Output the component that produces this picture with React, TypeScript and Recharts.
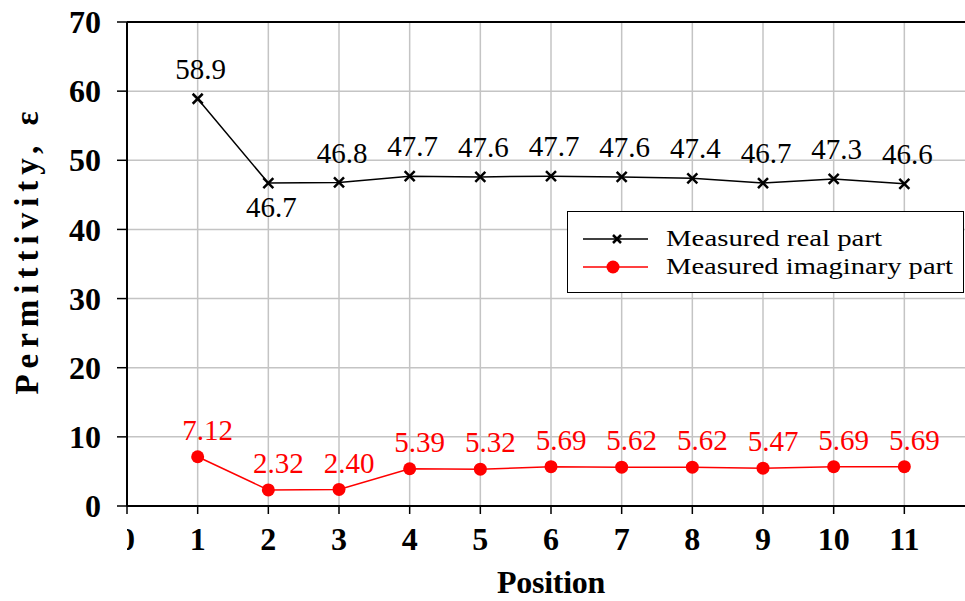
import React from 'react'
import {
  LineChart,
  Line,
  XAxis,
  YAxis,
  CartesianGrid,
  LabelList,
  ReferenceLine,
} from 'recharts'

const positions = [1, 2, 3, 4, 5, 6, 7, 8, 9, 10, 11]
const realPart = [58.9, 46.7, 46.8, 47.7, 47.6, 47.7, 47.6, 47.4, 46.7, 47.3, 46.6]
const imagPart = [7.12, 2.32, 2.4, 5.39, 5.32, 5.69, 5.62, 5.62, 5.47, 5.69, 5.69]
const realLabels = ['58.9', '46.7', '46.8', '47.7', '47.6', '47.7', '47.6', '47.4', '46.7', '47.3', '46.6']
const imagLabels = ['7.12', '2.32', '2.40', '5.39', '5.32', '5.69', '5.62', '5.62', '5.47', '5.69', '5.69']
const xTicks = [0, 1, 2, 3, 4, 5, 6, 7, 8, 9, 10, 11]
const yTicks = [0, 10, 20, 30, 40, 50, 60, 70]
const gridX = [0, 1, 2, 3, 4, 5, 6, 7, 8, 9, 10, 11, 12]

const data = positions.map((p, i) => ({
  pos: p,
  real: realPart[i],
  imag: imagPart[i],
  realLabel: realLabels[i],
  imagLabel: imagLabels[i],
}))

const SERIF = '"Liberation Serif", "Times New Roman", serif'

const XTick = ({ x, y, payload }: any) => {
  const txt = (
    <text x={x} y={y + 36} textAnchor="middle" fontFamily={SERIF} fontWeight="bold" fontSize={32} fill="#000">
      {payload.value}
    </text>
  )
  if (payload.value === 0) {
    return (
      <g>
        <defs>
          <clipPath id="zeroClip">
            <rect x={x} y={y} width={30} height={60} />
          </clipPath>
        </defs>
        <g clipPath="url(#zeroClip)">{txt}</g>
      </g>
    )
  }
  return txt
}

const YTick = ({ x, y, payload }: any) => (
  <text x={x} y={y} dy="0.35em" textAnchor="end" fontFamily={SERIF} fontWeight="bold" fontSize={32} fill="#000">
    {payload.value}
  </text>
)

const CrossDot = ({ cx, cy, size = 5, sw = 2.5 }: any) => {
  if (cx == null || cy == null) return null
  return (
    <g stroke="#000" strokeWidth={sw}>
      <line x1={cx - size} y1={cy - size} x2={cx + size} y2={cy + size} />
      <line x1={cx - size} y1={cy + size} x2={cx + size} y2={cy - size} />
    </g>
  )
}

const RealLabel = ({ x, y, value, index }: any) => {
  const below = index === 1
  return (
    <text
      x={x + 3}
      y={below ? y + 24 : y - 30}
      dy="0.35em"
      textAnchor="middle"
      fontFamily={SERIF}
      fontSize={29}
      fill="#000"
    >
      {value}
    </text>
  )
}

const ImagLabel = ({ x, y, value }: any) => (
  <text x={x + 10} y={y - 27} dy="0.35em" textAnchor="middle" fontFamily={SERIF} fontSize={29} fill="#ff0000">
    {value}
  </text>
)

const YTitle = () => (
  <text
    x={38}
    y={250}
    transform="rotate(-90, 38, 250)"
    textAnchor="middle"
    fontFamily={SERIF}
    fontWeight="bold"
    fontSize={33}
    letterSpacing={6}
    fill="#000"
  >
    Permittivity, ε
  </text>
)

const LegendBox = () => (
  <svg
    width={397}
    height={82}
    style={{ position: 'absolute', left: 567, top: 211, background: '#fff' }}
  >
    <rect x={0.5} y={0.5} width={396} height={81} fill="#fff" stroke="#000" strokeWidth={1} />
    <line x1={16} y1={28} x2={81} y2={28} stroke="#000" strokeWidth={1.5} />
    <CrossDot cx={50} cy={28} size={4} sw={2.5} />
    <line x1={16} y1={56} x2={81} y2={56} stroke="#ff0000" strokeWidth={1.5} />
    <circle cx={46} cy={56} r={6.5} fill="#ff0000" />
    <text x={99} y={35} fontFamily={SERIF} fontSize={24} textLength={216} lengthAdjust="spacingAndGlyphs" fill="#000">
      Measured real part
    </text>
    <text x={99} y={63} fontFamily={SERIF} fontSize={24} textLength={287} lengthAdjust="spacingAndGlyphs" fill="#000">
      Measured imaginary part
    </text>
  </svg>
)

export default function App() {
  return (
    <div style={{ position: 'absolute', left: 0, top: 0, width: 965, height: 601, overflow: 'hidden', background: '#fff' }}>
      <LineChart width={1000} height={601} data={data} margin={{ top: 22, right: 25, bottom: 0, left: 0 }}>
        <CartesianGrid
          stroke="#c4c4c4"
          strokeWidth={1.5}
          verticalCoordinatesGenerator={({ offset }: any) =>
            gridX.map((v) => offset.left + (v / 12) * offset.width)
          }
        />
        <XAxis
          dataKey="pos"
          type="number"
          domain={[0, 12]}
          ticks={xTicks}
          interval={0}
          height={95}
          tickSize={8}
          tickMargin={0}
          tick={<XTick />}
          axisLine={{ stroke: '#000', strokeWidth: 2 }}
          tickLine={{ stroke: '#000', strokeWidth: 1.5 }}
          label={{
            value: 'Position',
            position: 'insideBottom',
            offset: 8,
            style: { fontFamily: SERIF, fontWeight: 'bold', fontSize: 32, fill: '#000', letterSpacing: -0.3 },
          }}
        />
        <YAxis
          type="number"
          domain={[0, 70]}
          ticks={yTicks}
          interval={0}
          width={127}
          tickSize={10}
          tickMargin={16}
          tick={<YTick />}
          axisLine={{ stroke: '#000', strokeWidth: 2 }}
          tickLine={{ stroke: '#000', strokeWidth: 1.5 }}
          label={<YTitle />}
        />
        <ReferenceLine y={70} stroke="#000" strokeWidth={2} />
        <Line
          type="linear"
          dataKey="real"
          stroke="#000"
          strokeWidth={1.5}
          dot={<CrossDot />}
          isAnimationActive={false}
        >
          <LabelList dataKey="realLabel" content={<RealLabel />} />
        </Line>
        <Line
          type="linear"
          dataKey="imag"
          stroke="#ff0000"
          strokeWidth={1.5}
          dot={{ r: 6.5, fill: '#ff0000', stroke: '#ff0000', strokeWidth: 0 }}
          isAnimationActive={false}
        >
          <LabelList dataKey="imagLabel" content={<ImagLabel />} />
        </Line>
      </LineChart>
      <LegendBox />
    </div>
  )
}
